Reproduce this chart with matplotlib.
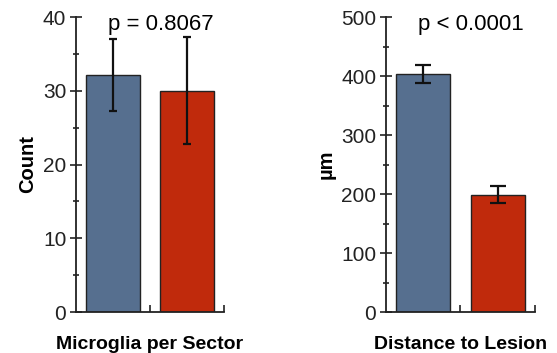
import numpy as np
import matplotlib
matplotlib.use('Agg')
import matplotlib.pyplot as plt
from matplotlib.ticker import MultipleLocator, FixedLocator

plt.rcParams['font.family'] = ['Liberation Sans', 'DejaVu Sans']

BLUE = '#566f8f'
RED = '#c02a0c'

# panel 1: microglia per sector
micro_means = [32.2, 30.0]
micro_err_low = [27.3, 22.8]
micro_err_high = [37.0, 37.3]
micro_p = 'p = 0.8067'

# panel 2: distance to lesion
dist_means = [403, 199]
dist_err_low = [388, 184]
dist_err_high = [418, 214]
dist_p = 'p < 0.0001'


def draw_panel(ax, means, lo, hi, ylim, major, minor, ylabel, xlabel, ptext, capsize):
    x = np.arange(len(means))
    yerr = [np.array(means) - np.array(lo), np.array(hi) - np.array(means)]
    ax.bar(x, means, width=0.72, color=[BLUE, RED], edgecolor='#222222', linewidth=1.0, zorder=2)
    ax.errorbar(x, means, yerr=yerr, fmt='none', ecolor='#111111', elinewidth=1.6,
                capsize=capsize, capthick=1.6, zorder=3)
    ax.set_xlim(-0.5, 1.5)
    ax.set_ylim(*ylim)
    for s in ['top', 'right']:
        ax.spines[s].set_visible(False)
    for s in ['left', 'bottom']:
        ax.spines[s].set_linewidth(1.3)
        ax.spines[s].set_color('#222222')
    ax.yaxis.set_major_locator(MultipleLocator(major))
    ax.yaxis.set_minor_locator(MultipleLocator(minor))
    ax.tick_params(axis='y', which='major', direction='inout', length=8, width=1.2,
                   labelsize=15, pad=3, colors='#222222')
    ax.tick_params(axis='y', which='minor', direction='inout', length=5, width=1.2, colors='#222222')
    ax.xaxis.set_major_locator(FixedLocator([0.5, 1.5]))
    ax.tick_params(axis='x', which='major', direction='in', length=5, width=1.2,
                   labelbottom=False, colors='#222222')
    ax.set_ylabel(ylabel, fontsize=14.5, fontweight='bold', labelpad=4)
    ax.set_xlabel(xlabel, fontsize=14, fontweight='bold', labelpad=17)
    ax.text(0.57, 0.975, ptext, transform=ax.transAxes, ha='center', va='center', fontsize=16)


fig = plt.figure(figsize=(5.57, 3.53), dpi=100)
ax1 = fig.add_axes([0.1364, 0.1161, 0.2657, 0.8357])
ax2 = fig.add_axes([0.693, 0.1161, 0.2675, 0.8357])

draw_panel(ax1, micro_means, micro_err_low, micro_err_high, (0, 40), 10, 5,
           'Count', 'Microglia per Sector', micro_p, 3)
draw_panel(ax2, dist_means, dist_err_low, dist_err_high, (0, 500), 100, 50,
           'µm', 'Distance to Lesion', dist_p, 5.5)

fig.savefig('out.png', dpi=100)
